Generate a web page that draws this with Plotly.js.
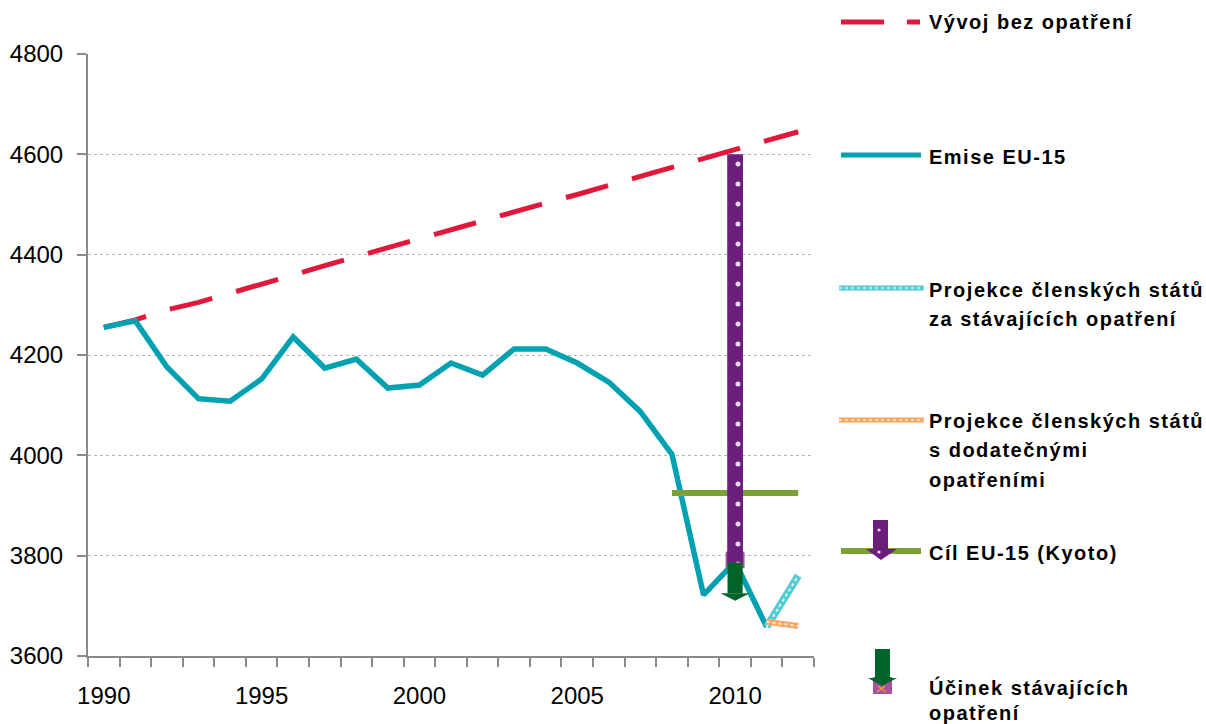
<!DOCTYPE html>
<html><head><meta charset="utf-8">
<script src="https://cdn.plot.ly/plotly-3.0.1.min.js"></script>
<style>
html,body{margin:0;padding:0;background:#fff;}
#chart{width:1206px;height:724px;}
text.annotation-text{letter-spacing:1.5px;}
</style></head><body><div id="chart"></div>
<script>
// ---- data ----
const years = [1990,1991,1992,1993,1994,1995,1996,1997,1998,1999,2000,2001,2002,2003,2004,2005,2006,2007,2008,2009,2010,2011,2012];
const noMeasures = [4255,4270,4290,4305,4323,4342,4360,4378,4396,4414,4433,4451,4468,4486,4503,4520,4537,4556,4574,4592,4610,4628,4645];
const emissionYears = [1990,1991,1992,1993,1994,1995,1996,1997,1998,1999,2000,2001,2002,2003,2004,2005,2006,2007,2008,2009,2010,2011];
const emissions = [4255,4268,4176,4113,4108,4152,4236,4174,4192,4134,4140,4184,4160,4212,4212,4184,4146,4087,4002,3722,3788,3658];
const projYears = [2011,2012];
const projExisting = [3658,3760];
const projAdditional = [3668,3660];
const kyotoYears = [2008,2012];
const kyotoTarget = [3925,3925];
const arrowYear = [2010];
const gapTop = [4600];        // purple arrow top
const gapBottom = [3786];     // purple arrow bottom
const effectTop = [3786];     // green arrow
const effectShaftEnd = [3725];
const effectTip = [3710];
const baseTop = [3808];       // pink base
const baseBottom = [3775];
const xTickVals = [1990,1995,2000,2005,2010];
const xTickLabels = ['1990','1995','2000','2005','2010'];
const yTickVals = [3600,3800,4000,4200,4400,4600,4800];
const yTickLabels = ['3600','3800','4000','4200','4400','4600','4800'];
const legendLabels = [
  ['Vývoj bez opatření'],
  ['Emise EU-15'],
  ['Projekce členských států','za stávajících opatření'],
  ['Projekce členských států','s dodatečnými','opatřeními'],
  ['Cíl EU-15 (Kyoto)'],
  ['Účinek stávajících','opatření']
];

// ---- colours ----
const RED='#E2183A', BLUE='#00A2B2', CYAN='#52CCD2', ORANGE='#F8A660', KYOTO='#7C9F36',
      PURPLE='#6A1F7B', GREEN='#00632A', PINK='#A8529C';

// ---- geometry helpers (plot area in px) ----
const L=88, R=814, T=54, B=656;
const px = x => (x-L)/(R-L);
const py = y => (B-y)/(B-T);

const traces = [
  {x:years, y:noMeasures, type:'scatter', mode:'lines', line:{color:RED, width:5, dash:'43.7px,24.9px'}},
  {x:emissionYears, y:emissions, type:'scatter', mode:'lines', line:{color:BLUE, width:5.5}},
  {x:projYears, y:projExisting, type:'scatter', mode:'lines', line:{color:CYAN, width:7.5}},
  {x:projYears, y:projExisting, type:'scatter', mode:'lines', line:{color:'rgba(255,255,255,0.8)', width:2, dash:'dot'}},
  {x:projYears, y:projAdditional, type:'scatter', mode:'lines', line:{color:ORANGE, width:6}},
  {x:projYears, y:projAdditional, type:'scatter', mode:'lines', line:{color:'rgba(255,255,255,0.7)', width:2, dash:'dot'}},
  {x:kyotoYears, y:kyotoTarget, type:'scatter', mode:'lines', line:{color:KYOTO, width:6}},
  // arrows on overlay axes so they sit above the lines
  {x:arrowYear, y:[baseTop[0]-baseBottom[0]], base:baseBottom, type:'bar', width:0.6, xaxis:'x2', yaxis:'y2',
   marker:{color:PINK, line:{width:0}}},
  {x:arrowYear, y:[gapTop[0]-gapBottom[0]], base:gapBottom, type:'bar', width:0.5, xaxis:'x2', yaxis:'y2',
   marker:{color:PURPLE, line:{width:0}, pattern:{shape:'.', fgcolor:'#e8d8ee', bgcolor:PURPLE, size:20, solidity:0.05}}},
  {x:arrowYear, y:[effectTop[0]-effectShaftEnd[0]], base:effectShaftEnd, type:'bar', width:0.48, xaxis:'x2', yaxis:'y2',
   marker:{color:GREEN, line:{width:0}}},
  {x:[arrowYear[0]-0.46, arrowYear[0]+0.46, arrowYear[0], arrowYear[0]-0.46],
   y:[effectShaftEnd[0], effectShaftEnd[0], effectTip[0], effectShaftEnd[0]],
   type:'scatter', mode:'lines', fill:'toself', fillcolor:GREEN, line:{width:0, color:GREEN}, xaxis:'x2', yaxis:'y2'}
];

// ---- manual legend ----
const shapes = [];
const annotations = [];
function hline(x0,x1,y,color,w,dash){
  shapes.push({type:'line', xref:'paper', yref:'paper', x0:px(x0), x1:px(x1), y0:py(y), y1:py(y),
    line:{color:color, width:w, dash:dash||'solid'}});
}
function rect(x0,x1,y0,y1,color){
  shapes.push({type:'rect', xref:'paper', yref:'paper', x0:px(x0), x1:px(x1), y0:py(y0), y1:py(y1),
    fillcolor:color, line:{width:0}});
}
function tri(xl,xr,yb,xt,yt,color){
  shapes.push({type:'path', xref:'paper', yref:'paper',
    path:`M ${px(xl)} ${py(yb)} L ${px(xr)} ${py(yb)} L ${px(xt)} ${py(yt)} Z`, fillcolor:color, line:{width:0}});
}
function dot(x,y,color){
  shapes.push({type:'circle', xref:'paper', yref:'paper', x0:px(x-1.6), x1:px(x+1.6), y0:py(y-1.6), y1:py(y+1.6),
    fillcolor:color, line:{width:0}});
}
// 1 red dash
hline(841,884,22,RED,5); hline(907,920,22,RED,5);
// 2 blue
hline(841,921,155,BLUE,5);
// 3 cyan hatched
hline(839,924,288,CYAN,5); hline(839,924,288,'rgba(255,255,255,0.8)',1.5,'dot');
// 4 orange hatched
hline(839,924,420,ORANGE,5); hline(839,924,420,'rgba(255,255,255,0.7)',1.5,'dot');
// 5 green line + purple arrow
hline(841,921,551,KYOTO,6);
rect(873,888,520,549,PURPLE); tri(866,897,549,881,560,PURPLE);
dot(879,530,'#e8d8ee'); dot(879,552,'#e8d8ee');
// 6 green arrow with pink base
rect(873,892,677,694,PINK);
rect(875,890,649,678,GREEN); tri(868,897,678,882,686,GREEN);
shapes.push({type:'line', xref:'paper', yref:'paper', x0:px(877), x1:px(885), y0:py(692), y1:py(686), line:{color:'#F39A2E', width:1.5}});
shapes.push({type:'line', xref:'paper', yref:'paper', x0:px(878), x1:px(886), y0:py(686), y1:py(692), line:{color:'#F39A2E', width:1.5}});

const legendY = [[22],[157],[290,319],[421,450,480],[553],[687,713]];
legendLabels.forEach((lines,i)=>{
  lines.forEach((t,j)=>{
    annotations.push({text:t, xref:'paper', yref:'paper', x:px(927), y:py(legendY[i][j]),
      xanchor:'left', yanchor:'middle', showarrow:false,
      font:{family:'Liberation Sans, Arial, sans-serif', size:20, weight:'bold', color:'#000'}});
  });
});

const layout = {
  width:1206, height:724,
  margin:{l:L, r:1206-R, t:T, b:724-B, pad:0},
  paper_bgcolor:'#fff', plot_bgcolor:'#fff',
  showlegend:false, hovermode:false, barmode:'overlay',
  font:{family:'Liberation Sans, Arial, sans-serif', color:'#000'},
  xaxis:{range:[1989.5,2012.5], tickmode:'array', tickvals:xTickVals, ticktext:xTickLabels, ticks:'',
    showline:true, linecolor:'#8a8a8a', linewidth:2, showgrid:false, zeroline:false,
    tickfont:{size:24, color:'#000'}, ticklabelstandoff:17,
    minor:{tickmode:'array', tickvals:years.map(v=>v-0.5).concat([years[years.length-1]+0.5]),
      ticks:'outside', ticklen:9, tickcolor:'#8a8a8a', tickwidth:2, showgrid:false}},
  yaxis:{range:[3600,4800], tickmode:'array', tickvals:yTickVals, ticktext:yTickLabels, ticks:'outside', ticklen:9,
    tickcolor:'#8a8a8a', tickwidth:2, showline:true, linecolor:'#8a8a8a', linewidth:2,
    showgrid:true, gridcolor:'#b4b4b4', griddash:'dot', gridwidth:1, zeroline:false,
    tickfont:{size:24, color:'#000'}, ticklabelstandoff:9},
  xaxis2:{range:[1989.5,2012.5], overlaying:'x', showgrid:false, showline:false, zeroline:false, showticklabels:false, ticks:''},
  yaxis2:{range:[3600,4800], overlaying:'y', showgrid:false, showline:false, zeroline:false, showticklabels:false, ticks:''},
  shapes:shapes, annotations:annotations
};
Plotly.newPlot('chart', traces, layout, {staticPlot:true, displayModeBar:false});
</script></body></html>
